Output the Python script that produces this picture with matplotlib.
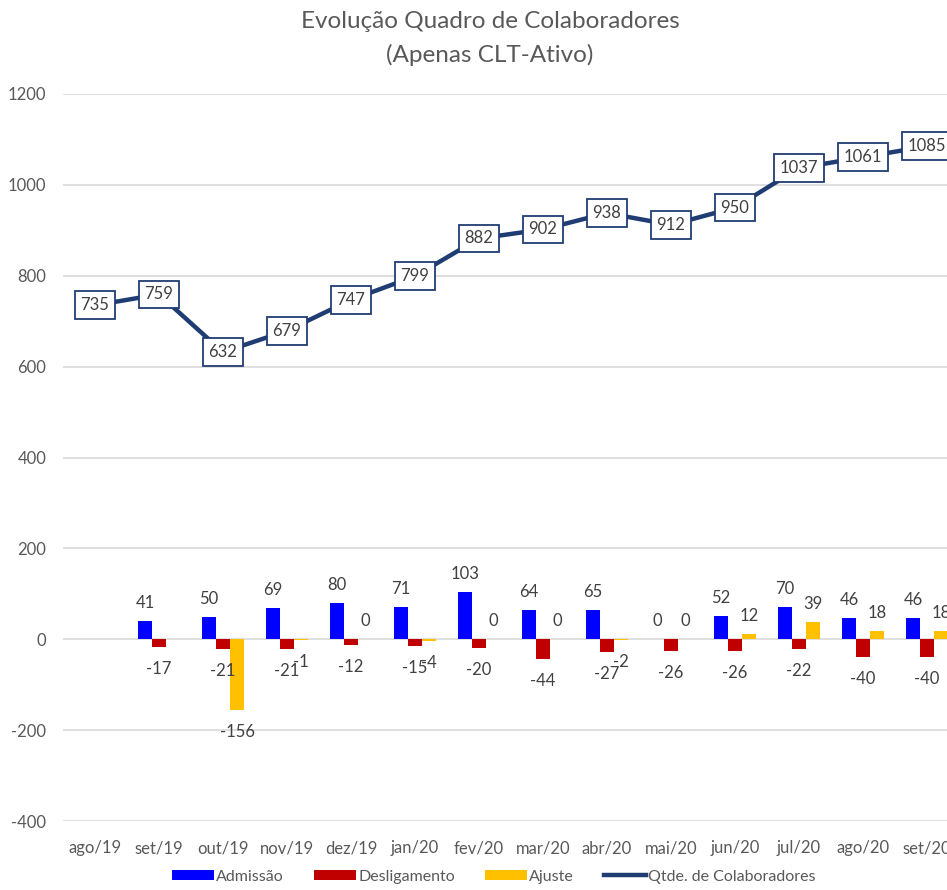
import matplotlib
matplotlib.use('Agg')
import matplotlib.pyplot as plt
import numpy as np

plt.rcParams['font.family'] = ['Lato', 'DejaVu Sans']
plt.rcParams['axes.unicode_minus'] = False

# Dados
meses = ['ago/19', 'set/19', 'out/19', 'nov/19', 'dez/19', 'jan/20', 'fev/20',
         'mar/20', 'abr/20', 'mai/20', 'jun/20', 'jul/20', 'ago/20', 'set/20']
admissao = [np.nan, 41, 50, 69, 80, 71, 103, 64, 65, 0, 52, 70, 46, 46]
desligamento = [np.nan, -17, -21, -21, -12, -15, -20, -44, -27, -26, -26, -22, -40, -40]
ajuste = [np.nan, np.nan, -156, -1, 0, -4, 0, 0, -2, 0, 12, 39, 18, 18]
qtde = [735, 759, 632, 679, 747, 799, 882, 902, 938, 912, 950, 1037, 1061, 1085]

cor_txt = '#404040'
cor_linha = '#1F3D73'

fig = plt.figure(figsize=(9.47, 8.9), dpi=100)
# eixo mais largo que a figura: o lado direito fica cortado, como no original
ax = fig.add_axes([63 / 947, 69 / 890, 896 / 947, 727 / 890])

x = np.arange(len(meses))
w = 0.22

series = [(admissao, '#0000FF', 'Admissão', -w),
          (desligamento, '#C00000', 'Desligamento', 0),
          (ajuste, '#FFC000', 'Ajuste', w)]

handles = []
for vals, cor, nome, dx in series:
    v = np.array(vals, dtype=float)
    h = ax.bar(x + dx, v, width=w, color=cor, label=nome, zorder=3)
    handles.append(h)
    for xi, vi in zip(x + dx, v):
        if np.isnan(vi):
            continue
        if vi >= 0:
            ax.annotate(f'{vi:.0f}', (xi, vi), xytext=(0, 10), textcoords='offset pixels',
                        ha='center', va='bottom', fontsize=12, color=cor_txt, zorder=5)
        else:
            ax.annotate(f'{vi:.0f}', (xi, vi), xytext=(0, -14), textcoords='offset pixels',
                        ha='center', va='top', fontsize=12, color=cor_txt, zorder=5)

linha, = ax.plot(x, qtde, color=cor_linha, linewidth=3.2, label='Qtde. de Colaboradores', zorder=4)
handles.append(linha)
for xi, q in zip(x, qtde):
    ax.text(xi, q, str(q), ha='center', va='center', fontsize=12, color=cor_txt, zorder=6,
            bbox=dict(boxstyle='square,pad=0.35', facecolor='white', edgecolor=cor_linha, linewidth=1.3))

ax.set_xlim(-0.5, len(meses) - 0.5)
ax.set_ylim(-400, 1200)
ax.set_yticks(np.arange(-400, 1201, 200))
ax.set_xticks(x)
ax.set_xticklabels(meses)
ax.tick_params(axis='both', length=0, labelsize=12, colors='#595959')
ax.tick_params(axis='x', pad=14)
ax.tick_params(axis='y', pad=12)
ax.grid(axis='y', color='#D9D9D9', linewidth=1.2, zorder=0)
ax.set_axisbelow(True)
for s in ax.spines.values():
    s.set_visible(False)

fig.text(490 / 947, 1 - 22 / 890, 'Evolução Quadro de Colaboradores', ha='center', va='center',
         fontsize=17.5, color='#595959')
fig.text(490 / 947, 1 - 55 / 890, '(Apenas CLT-Ativo)', ha='center', va='center',
         fontsize=17.5, color='#595959')

fig.legend(handles=handles, labels=[h.get_label() for h in handles],
           loc='lower center', bbox_to_anchor=(494 / 947, -0.009), ncol=4, frameon=False,
           fontsize=11.5, labelcolor='#595959', handlelength=2.6, handleheight=0.6,
           columnspacing=1.9, handletextpad=0.15)

fig.savefig('out.png', dpi=100)
